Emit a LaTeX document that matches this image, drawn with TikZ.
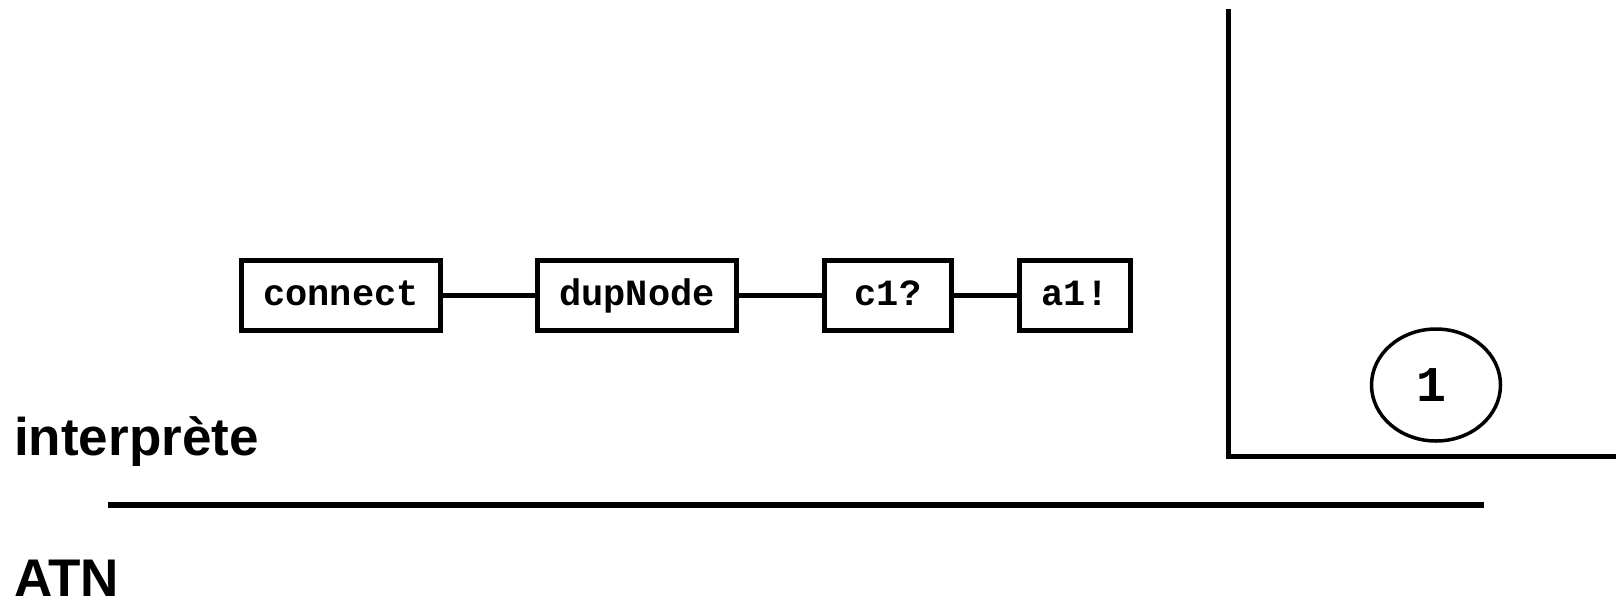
\documentclass[tikz,border=0pt]{standalone}
\usepackage{fontspec}
\setmainfont{Liberation Sans}
\setmonofont{Liberation Mono}
\usepackage{tikz}
\usetikzlibrary{positioning}
\usetikzlibrary{shapes.geometric}

\begin{document}
\begin{tikzpicture}[x=1pt,y=-1pt,
  instr/.style={draw,line width=5pt,minimum height=70pt,inner sep=0pt,
    text height=24pt,text depth=4pt,
    font=\fontsize{37}{37}\selectfont\ttfamily\bfseries},
  link/.style={line width=5pt},
  label/.style={anchor=base west,inner sep=0pt,
    font=\fontsize{53}{53}\selectfont\bfseries}]
\useasboundingbox (0,0) rectangle (1616,603);
% chain of instructions
\node[instr,minimum width=199pt] (connect) at (341,295) {connect};
\node[instr,minimum width=199pt,right=92pt of connect] (dupNode) {dupNode};
\node[instr,minimum width=127pt,right=83pt of dupNode] (c1) {c1?};
\node[instr,minimum width=111pt,right=63pt of c1] (a1) {a1!};
\draw[link] (connect) -- (dupNode);
\draw[link] (dupNode) -- (c1);
\draw[link] (c1) -- (a1);
% frame on the right
\coordinate (top) at (1228,9);
\coordinate (corner) at (1616,456);
\draw[line width=5pt] (top) |- (corner);
\node[ellipse,draw,line width=3.5pt,minimum width=129pt,minimum height=112pt,
  font=\fontsize{50}{50}\selectfont\ttfamily\bfseries] (one) at (1436,385) {\hspace*{-10pt}1};
% labels
\node[label] (interp) at (14,455) {interprète};
\coordinate (sepl) at (108,505);
\coordinate (sepr) at (1484,505);
\draw[line width=5.5pt] (sepl) -- (sepr);
\node[label] (atn) at (14,596) {ATN};
\end{tikzpicture}
\end{document}
